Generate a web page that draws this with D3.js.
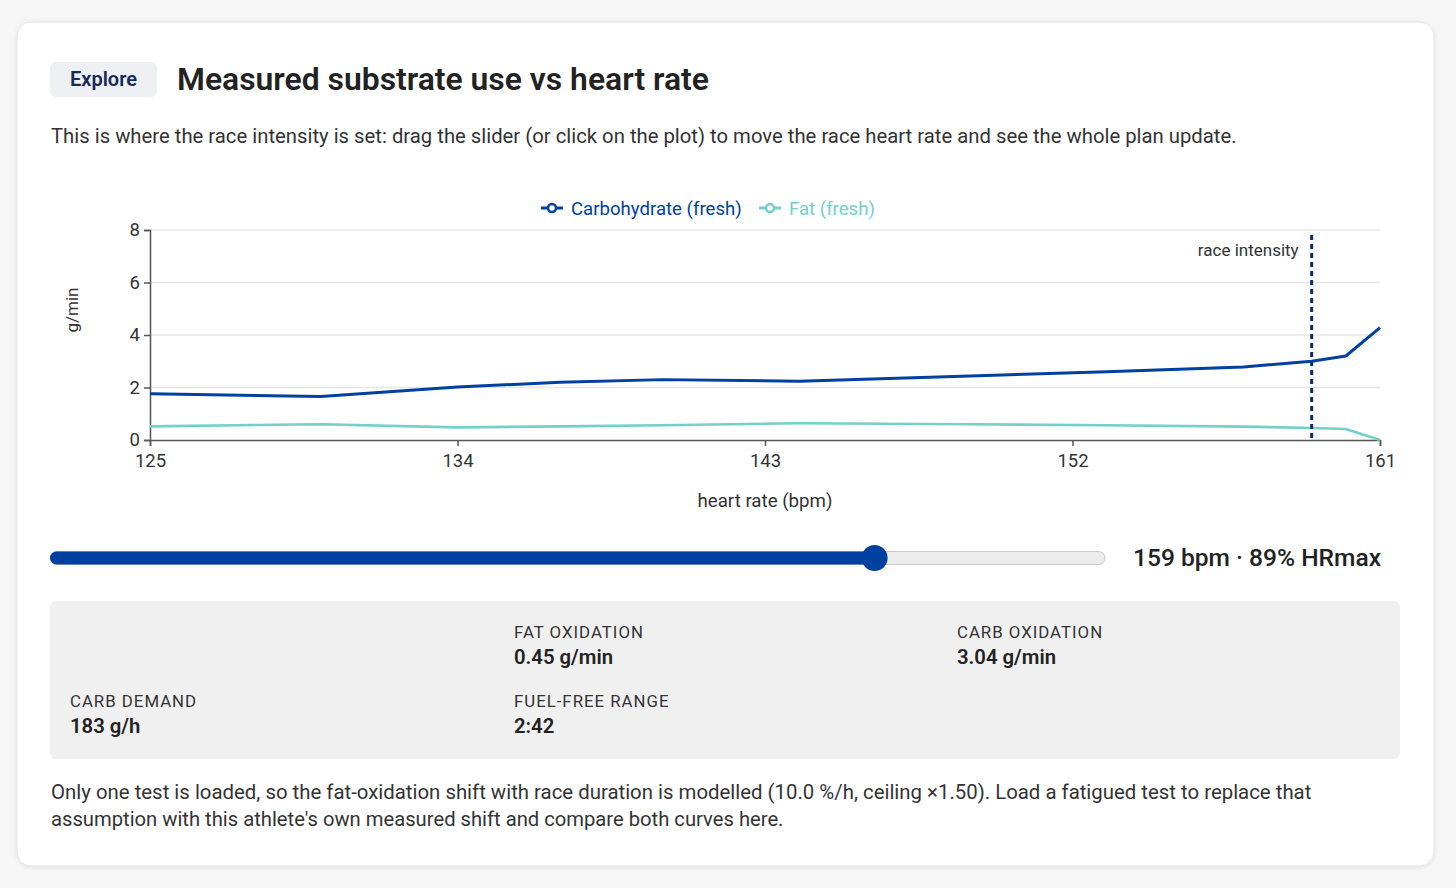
<!DOCTYPE html>
<html>
<head>
<meta charset="utf-8">
<script src="https://cdn.jsdelivr.net/npm/d3@7"></script>
<style>
  html, body { margin: 0; padding: 0; background: #f6f6f6; }
  svg { display: block; font-family: Roboto, "Noto Sans", sans-serif; }
</style>
</head>
<body>
<svg id="page" width="1456" height="888"></svg>
<script>
// heart rate steps of the test (bpm) and measured oxidation (g/min)
var heartRates = [125, 130, 134, 137, 140, 144, 149, 153, 157, 159, 160, 161];
var carbFresh  = [1.76, 1.66, 2.02, 2.20, 2.30, 2.24, 2.44, 2.60, 2.78, 3.00, 3.20, 4.28];
var fatFresh   = [0.52, 0.60, 0.48, 0.52, 0.56, 0.64, 0.60, 0.56, 0.51, 0.46, 0.42, 0.00];

var xTicks = [125, 134, 143, 152, 161];
var yTicks = [0, 2, 4, 6, 8];

var raceHr = 159;
var hrMax = 179;
var sliderMin = 121, sliderMax = 169;

var statLabels = ['FAT OXIDATION', 'CARB OXIDATION', 'CARB DEMAND', 'FUEL-FREE RANGE'];
var statValues = ['0.45 g/min', '3.04 g/min', '183 g/h', '2:42'];

var carbColor = '#0041a0';
var fatColor = '#72d1c8';

var svg = d3.select('#page');

// fit a text line to the width it has in the picture
function fitWidth(sel, w) {
    var fs = parseFloat(sel.attr('font-size'));
    var len = sel.node().getComputedTextLength();
    sel.attr('font-size', (fs * w / len).toFixed(2));
}

// card
var defs = svg.append('defs');
var f = defs.append('filter').attr('id', 'shadow').attr('x', '-5%').attr('y', '-5%').attr('width', '110%').attr('height', '110%');
f.append('feDropShadow').attr('dx', 0).attr('dy', 1).attr('stdDeviation', 2).attr('flood-color', '#000').attr('flood-opacity', 0.08);

svg.append('rect')
    .attr('x', 17).attr('y', 22).attr('width', 1417).attr('height', 844)
    .attr('rx', 14).attr('fill', '#fff').attr('stroke', '#e3e3e3')
    .attr('filter', 'url(#shadow)');

// header
svg.append('rect')
    .attr('x', 50).attr('y', 62).attr('width', 107).attr('height', 35)
    .attr('rx', 6).attr('fill', '#eef0f3');
svg.append('text')
    .attr('x', 103.5).attr('y', 86).attr('text-anchor', 'middle')
    .attr('font-size', 20).attr('font-weight', 600).attr('fill', '#14295c')
    .text('Explore');

var title = svg.append('text')
    .attr('x', 177).attr('y', 90)
    .attr('font-size', 30).attr('font-weight', 600).attr('fill', '#222')
    .text('Measured substrate use vs heart rate');
fitWidth(title, 532);

var sub = svg.append('text')
    .attr('x', 51).attr('y', 143)
    .attr('font-size', 19).attr('fill', '#333')
    .text('This is where the race intensity is set: drag the slider (or click on the plot) to move the race heart rate and see the whole plan update.');
fitWidth(sub, 1186);

// chart
var x = d3.scaleLinear().domain([125, 161]).range([150, 1380]);
var y = d3.scaleLinear().domain([0, 8]).range([440, 230]);

var chartG = svg.append('g');

// grid lines
chartG.append('g').selectAll('line')
    .data(yTicks.filter(function(d) { return d > 0; }))
    .enter().append('line')
    .attr('x1', x(125)).attr('x2', x(161))
    .attr('y1', function(d) { return y(d); }).attr('y2', function(d) { return y(d); })
    .attr('stroke', '#e6e6e6').attr('stroke-width', 1.5);

var yAxis = d3.axisLeft(y).tickValues(yTicks).tickSize(6).tickPadding(4);
var yG = chartG.append('g').attr('transform', 'translate(150,0)').call(yAxis);

var xAxis = d3.axisBottom(x).tickValues(xTicks).tickSize(6).tickPadding(8);
var xG = chartG.append('g').attr('transform', 'translate(0,440)').call(xAxis);

[yG, xG].forEach(function(g) {
    g.selectAll('path, line').attr('stroke', '#555').attr('stroke-width', 1.5);
    g.selectAll('text').attr('font-size', 18.5).attr('fill', '#333').attr('font-family', 'Roboto, sans-serif');
});

chartG.append('text')
    .attr('transform', 'translate(78,310) rotate(-90)')
    .attr('text-anchor', 'middle').attr('font-size', 17).attr('fill', '#333')
    .text('g/min');
chartG.append('text')
    .attr('x', 765).attr('y', 507).attr('text-anchor', 'middle')
    .attr('font-size', 18.7).attr('fill', '#333')
    .text('heart rate (bpm)');

var points = heartRates.map(function(hr, i) {
    return {hr: hr, carb: carbFresh[i], fat: fatFresh[i]};
});

var fatLine = d3.line().x(function(d) { return x(d.hr); }).y(function(d) { return y(d.fat); });
var carbLine = d3.line().x(function(d) { return x(d.hr); }).y(function(d) { return y(d.carb); });

chartG.append('path').datum(points)
    .attr('d', fatLine).attr('fill', 'none')
    .attr('stroke', fatColor).attr('stroke-width', 2.6).attr('stroke-linejoin', 'round');
chartG.append('path').datum(points)
    .attr('d', carbLine).attr('fill', 'none')
    .attr('stroke', carbColor).attr('stroke-width', 3).attr('stroke-linejoin', 'round');

// race intensity marker
chartG.append('line')
    .attr('x1', x(raceHr)).attr('x2', x(raceHr))
    .attr('y1', 235).attr('y2', 440)
    .attr('stroke', '#0b2a6b').attr('stroke-width', 3).attr('stroke-dasharray', '5,4');
chartG.append('text')
    .attr('x', x(raceHr) - 13).attr('y', 256).attr('text-anchor', 'end')
    .attr('font-size', 17).attr('fill', '#333')
    .text('race intensity');

// legend
var legendItems = [
    {name: 'Carbohydrate (fresh)', color: carbColor, x: 541},
    {name: 'Fat (fresh)', color: fatColor, x: 759}
];
var legend = svg.append('g').selectAll('g').data(legendItems).enter().append('g')
    .attr('transform', function(d) { return 'translate(' + d.x + ',208)'; });
legend.append('line').attr('x1', 0).attr('x2', 22)
    .attr('stroke', function(d) { return d.color; }).attr('stroke-width', 3);
legend.append('circle').attr('cx', 11).attr('r', 4)
    .attr('fill', '#fff').attr('stroke', function(d) { return d.color; }).attr('stroke-width', 2.5);
legend.append('text').attr('x', 30).attr('y', 6.5)
    .attr('font-size', 18.6).attr('fill', function(d) { return d.color; })
    .text(function(d) { return d.name; });

// slider
var s = d3.scaleLinear().domain([sliderMin, sliderMax]).range([63, 1092]);
svg.append('rect')
    .attr('x', 50).attr('y', 551.5).attr('width', 1055).attr('height', 13)
    .attr('rx', 6.5).attr('fill', '#ececec').attr('stroke', '#c9c9c9');
svg.append('rect')
    .attr('x', 50).attr('y', 551.5).attr('width', s(raceHr) - 50).attr('height', 13)
    .attr('rx', 6.5).attr('fill', carbColor);
svg.append('circle')
    .attr('cx', s(raceHr) - 3).attr('cy', 558).attr('r', 13).attr('fill', carbColor);

var readout = svg.append('text')
    .attr('x', 1133).attr('y', 566)
    .attr('font-size', 23).attr('font-weight', 500).attr('fill', '#222')
    .text(raceHr + ' bpm · ' + Math.round(raceHr / hrMax * 100) + '% HRmax');
fitWidth(readout, 248);

// stats box
svg.append('rect')
    .attr('x', 50).attr('y', 601).attr('width', 1350).attr('height', 158)
    .attr('rx', 6).attr('fill', '#f0f0f0');

var statPos = [[514, 638], [957, 638], [70, 707], [514, 707]];
var stats = svg.append('g').selectAll('g').data(statLabels).enter().append('g')
    .attr('transform', function(d, i) { return 'translate(' + statPos[i] + ')'; });
stats.append('text')
    .attr('font-size', 16.8).attr('letter-spacing', 1).attr('fill', '#333')
    .text(function(d) { return d; });
stats.append('text')
    .attr('y', 26).attr('font-size', 20.3).attr('font-weight', 600).attr('fill', '#222')
    .text(function(d, i) { return statValues[i]; });

// footer note
var note1 = svg.append('text')
    .attr('x', 51).attr('y', 799).attr('font-size', 19).attr('fill', '#333')
    .text('Only one test is loaded, so the fat-oxidation shift with race duration is modelled (10.0 %/h, ceiling ×1.50). Load a fatigued test to replace that');
fitWidth(note1, 1261);
var note2 = svg.append('text')
    .attr('x', 51).attr('y', 826).attr('font-size', 19).attr('fill', '#333')
    .text("assumption with this athlete's own measured shift and compare both curves here.");
fitWidth(note2, 733);
</script>
</body>
</html>
